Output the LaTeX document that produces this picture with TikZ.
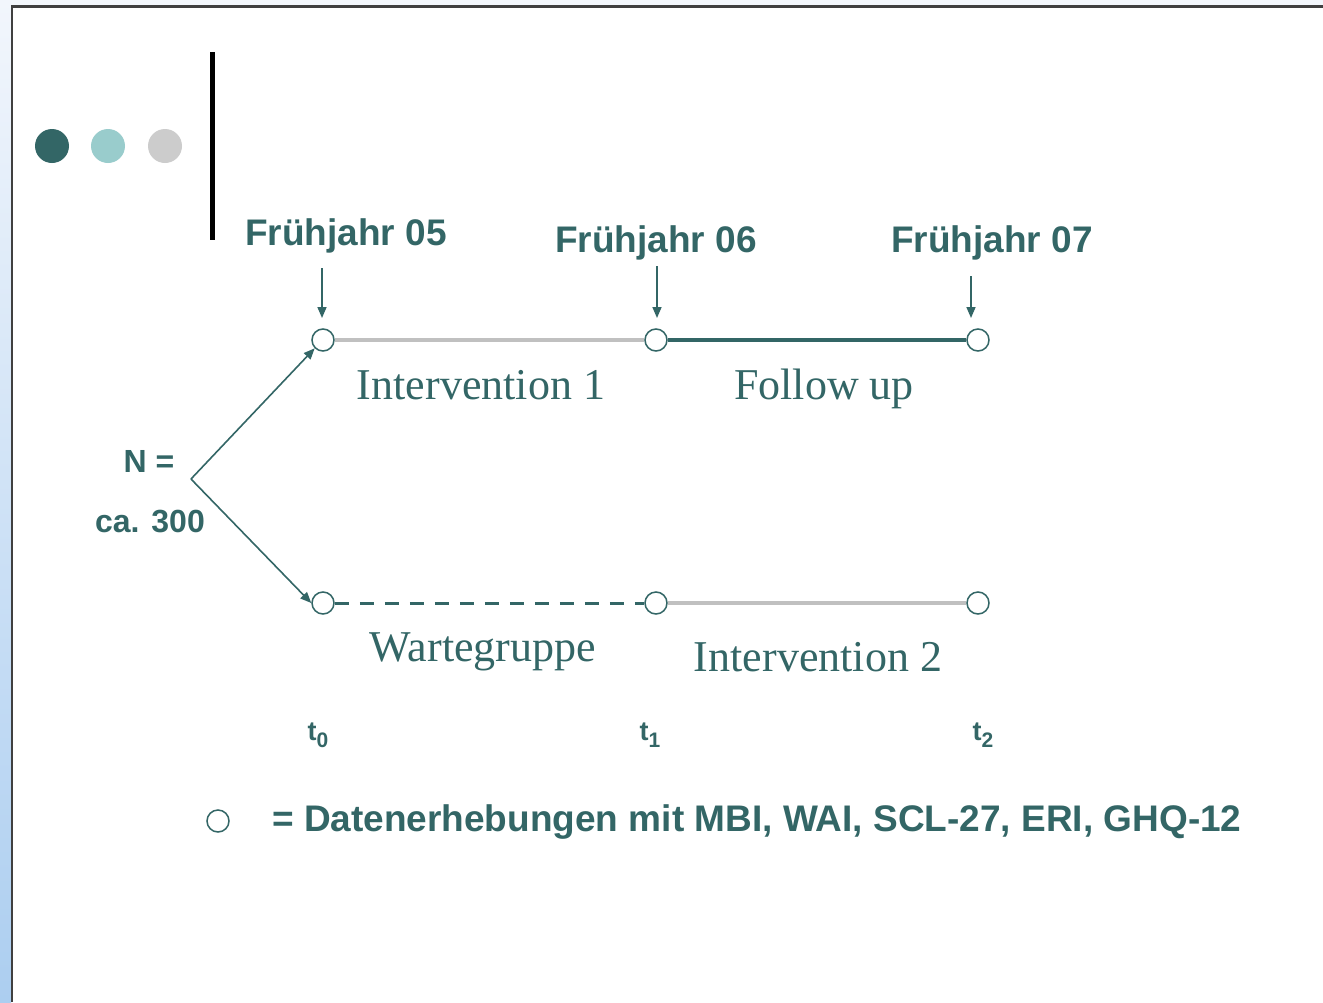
\documentclass[tikz,border=0pt]{standalone}
\usepackage{fontspec}
\setmainfont{Liberation Serif}
\setsansfont{Liberation Sans}
\usetikzlibrary{arrows.meta}
\definecolor{teal1}{HTML}{336666}
\definecolor{lteal}{HTML}{99CCCC}
\definecolor{lgray}{HTML}{CCCCCC}
\definecolor{lineg}{HTML}{C0C0C0}
\definecolor{frame}{HTML}{404040}
\definecolor{topbg}{HTML}{F3F7FC}
\definecolor{sidetop}{HTML}{F2F6FC}
\definecolor{sidebot}{HTML}{ACCEF0}
\newcommand{\tsub}[1]{t\raisebox{-7pt}{\fontsize{21}{22}\selectfont #1}}
\begin{document}
\begin{tikzpicture}[x=1pt,y=-1pt,
  pt/.style={circle,draw=teal1,fill=white,line width=1.5pt,minimum size=22pt,inner sep=0pt},
  sans/.style={text=teal1,font=\sffamily\bfseries\fontsize{37}{40}\selectfont,inner sep=0pt},
  sansm/.style={text=teal1,font=\sffamily\bfseries\fontsize{32}{36}\selectfont,inner sep=0pt},
  ser/.style={text=teal1,font=\rmfamily\fontsize{44}{48}\selectfont,inner sep=0pt},
  tl/.style={text=teal1,font=\sffamily\bfseries\fontsize{27}{30}\selectfont,inner sep=0pt},
  arr/.style={draw=teal1,line width=1.6pt,-{Triangle[length=11pt,width=9pt]}},
  dot/.style={circle,inner sep=0pt,minimum size=34pt}
]
\useasboundingbox (0,0) rectangle (1323,1002);
% background
\fill[white] (0,0) rectangle (1323,1002);
\fill[topbg] (0,0) rectangle (1323,6);
\shade[top color=sidetop,bottom color=sidebot] (0,0) rectangle (11,1002);
\draw[frame,line width=2.5pt] (12,1002) -- (12,6.5) -- (1323,6.5);
% decoration
\node[dot,fill=teal1] (d1) at (52,146) {};
\node[dot,fill=lteal] (d2) at (108,146) {};
\node[dot,fill=lgray] (d3) at (165,146) {};
\fill[black] (209.5,52) rectangle (215,240);
% points
\node[pt] (a0) at (323,340) {};
\node[pt] (a1) at (656,340) {};
\node[pt] (a2) at (978,340) {};
\node[pt] (b0) at (323,603) {};
\node[pt] (b1) at (656,603) {};
\node[pt] (b2) at (978,603) {};
% lines
\draw[lineg,line width=3.5pt] (a0) -- (a1);
\draw[teal1,line width=3.5pt] (a1) -- (a2);
\draw[teal1,line width=3pt,dash pattern=on 14pt off 11pt] (b0) -- (b1);
\draw[lineg,line width=4pt] (b1) -- (b2);
% labels
\node[sans] (f5) at (346,236) {Frühjahr 05};
\node[sans] (f6) at (656,243) {Frühjahr 06};
\node[sans] (f7) at (992,243) {Frühjahr 07};
\coordinate (c5) at (322,268);
\coordinate (c6) at (657,266);
\coordinate (c7) at (971,276);
\draw[arr] (c5) -- (322,318);
\draw[arr] (c6) -- (657,318);
\draw[arr] (c7) -- (971,318);
\node[ser] (i1) at (481,385) {Intervention 1};
\node[ser] (fu) at (824,389) {Follow up};
\node[ser] (wg) at (483,652) {Wartegruppe};
\node[ser] (i2) at (818,657) {Intervention 2};
\node[sansm] (n1) at (149,461) {N =};
\node[sansm] (n2) at (150,521) {ca. 300};
\coordinate (v) at (191,479);
\draw[arr] (v) -- (a0.225);
\draw[arr] (v) -- (b0.west);
\node[tl] (t0) at (318,735) {\tsub{0}};
\node[tl] (t1) at (650,735) {\tsub{1}};
\node[tl] (t2) at (983,735) {\tsub{2}};
\node[pt] (lg) at (218,821) {};
\node[sans,anchor=west] (lt) at (272,822) {= Datenerhebungen mit MBI, WAI, SCL-27, ERI, GHQ-12};
\end{tikzpicture}
\end{document}
